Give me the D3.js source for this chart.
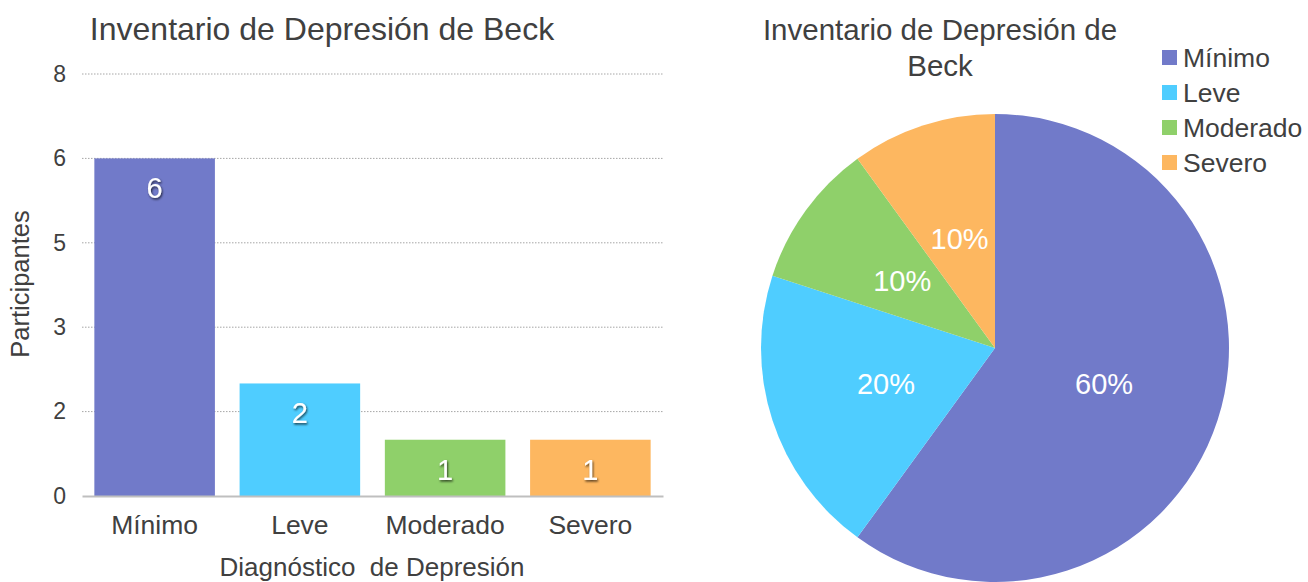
<!DOCTYPE html>
<html>
<head>
<meta charset="utf-8">
<script src="https://cdn.jsdelivr.net/npm/d3@7"></script>
<style>
  body { margin: 0; background: #fff; }
  svg { font-family: "Liberation Sans", Arial, sans-serif; }
  text { fill: #404040; }
</style>
</head>
<body>
<div id="chart"></div>
<script>
// data
var categories = ["Mínimo", "Leve", "Moderado", "Severo"];
var participants = [6, 2, 1, 1];
var percentLabels = ["60%", "20%", "10%", "10%"];
var yTicks = [0, 1.5, 3, 4.5, 6, 7.5];
var colors = ["#717AC9", "#4FCDFF", "#8FD06A", "#FDB760"];

var svg = d3.select("#chart").append("svg")
    .attr("width", 1308)
    .attr("height", 582);

var defs = svg.append("defs");
var f = defs.append("filter").attr("id", "shadow")
    .attr("x", "-50%").attr("y", "-50%").attr("width", "200%").attr("height", "200%");
f.append("feDropShadow").attr("dx", 1).attr("dy", 1.5).attr("stdDeviation", 1)
    .attr("flood-color", "#000").attr("flood-opacity", 0.7);

// ---- bar chart ----
var x = d3.scaleBand()
    .domain(categories)
    .range([82, 663])
    .paddingInner(0.17)
    .paddingOuter(0.085);
var y = d3.scaleLinear()
    .domain([0, 7.5])
    .range([496, 74]);

// gridlines
svg.append("g")
    .selectAll("line")
    .data(yTicks.slice(1))
    .join("line")
    .attr("x1", 82).attr("x2", 663)
    .attr("y1", function (d) { return y(d); })
    .attr("y2", function (d) { return y(d); })
    .attr("stroke", "#a6a6a6")
    .attr("stroke-width", 1)
    .attr("stroke-dasharray", "1.5,1.5");

// y axis labels
var yAxis = svg.append("g")
    .attr("transform", "translate(82,0)")
    .call(d3.axisLeft(y).tickValues(yTicks).tickSize(0).tickPadding(16)
        .tickFormat(function (d) { return Math.floor(d + 0.5); }));
yAxis.select(".domain").remove();
yAxis.selectAll("text").style("font-size", "23px").style("font-family", "Liberation Sans, Arial, sans-serif").attr("fill", "#404040");

// bars
svg.append("g")
    .selectAll("rect")
    .data(participants)
    .join("rect")
    .attr("x", function (d, i) { return x(categories[i]); })
    .attr("y", function (d) { return y(d); })
    .attr("width", x.bandwidth())
    .attr("height", function (d) { return y(0) - y(d); })
    .attr("fill", function (d, i) { return colors[i]; });

// x axis
var xAxis = svg.append("g")
    .attr("transform", "translate(0,496)")
    .call(d3.axisBottom(x).tickSize(0).tickPadding(19));
xAxis.select(".domain").attr("stroke", "#bfbfbf").attr("stroke-width", 2);
xAxis.selectAll("text").style("font-size", "26.5px").style("font-family", "Liberation Sans, Arial, sans-serif").attr("fill", "#404040");

// data labels
svg.append("g")
    .selectAll("text")
    .data(participants)
    .join("text")
    .attr("x", function (d, i) { return x(categories[i]) + x.bandwidth() / 2; })
    .attr("y", function (d) { return y(d) + 40; })
    .attr("text-anchor", "middle")
    .style("font-size", "29px")
    .style("fill", "#fff")
    .attr("filter", "url(#shadow)")
    .text(function (d) { return d; });

// titles
svg.append("text")
    .attr("x", 322).attr("y", 40)
    .attr("text-anchor", "middle")
    .style("font-size", "32px")
    .text("Inventario de Depresión de Beck");

svg.append("text")
    .attr("x", 372).attr("y", 576)
    .attr("text-anchor", "middle")
    .style("font-size", "26px")
    .style("white-space", "pre")
    .text("Diagnóstico  de Depresión");

svg.append("text")
    .attr("transform", "translate(29,284) rotate(-90)")
    .attr("text-anchor", "middle")
    .style("font-size", "25.5px")
    .text("Participantes");

// ---- pie chart ----
var cx = 995, cy = 348, r = 234;
var pie = d3.pie().sort(null);
var arcs = pie(participants);
var arc = d3.arc().innerRadius(0).outerRadius(r);
var labelArc = d3.arc().innerRadius(r * 0.49).outerRadius(r * 0.49);

var pg = svg.append("g").attr("transform", "translate(" + cx + "," + cy + ")");
pg.selectAll("path")
    .data(arcs)
    .join("path")
    .attr("d", arc)
    .attr("fill", function (d, i) { return colors[i]; });

pg.selectAll("text")
    .data(arcs)
    .join("text")
    .attr("transform", function (d) { return "translate(" + labelArc.centroid(d) + ")"; })
    .attr("text-anchor", "middle")
    .attr("dy", "0.35em")
    .style("font-size", "29px")
    .style("fill", "#fff")
    .text(function (d, i) { return percentLabels[i]; });

// pie title
var pt = svg.append("text")
    .attr("text-anchor", "middle")
    .style("font-size", "29.5px");
pt.append("tspan").attr("x", 940).attr("y", 40).text("Inventario de Depresión de");
pt.append("tspan").attr("x", 940).attr("y", 76).text("Beck");

// legend
var legend = svg.append("g")
    .selectAll("g")
    .data(categories)
    .join("g")
    .attr("transform", function (d, i) { return "translate(1162," + (58 + i * 35) + ")"; });
legend.append("rect")
    .attr("x", 0).attr("y", -8)
    .attr("width", 15).attr("height", 15)
    .attr("fill", function (d, i) { return colors[i]; });
legend.append("text")
    .attr("x", 21).attr("y", 0)
    .attr("dy", "0.35em")
    .style("font-size", "26.5px")
    .text(function (d) { return d; });
</script>
</body>
</html>
